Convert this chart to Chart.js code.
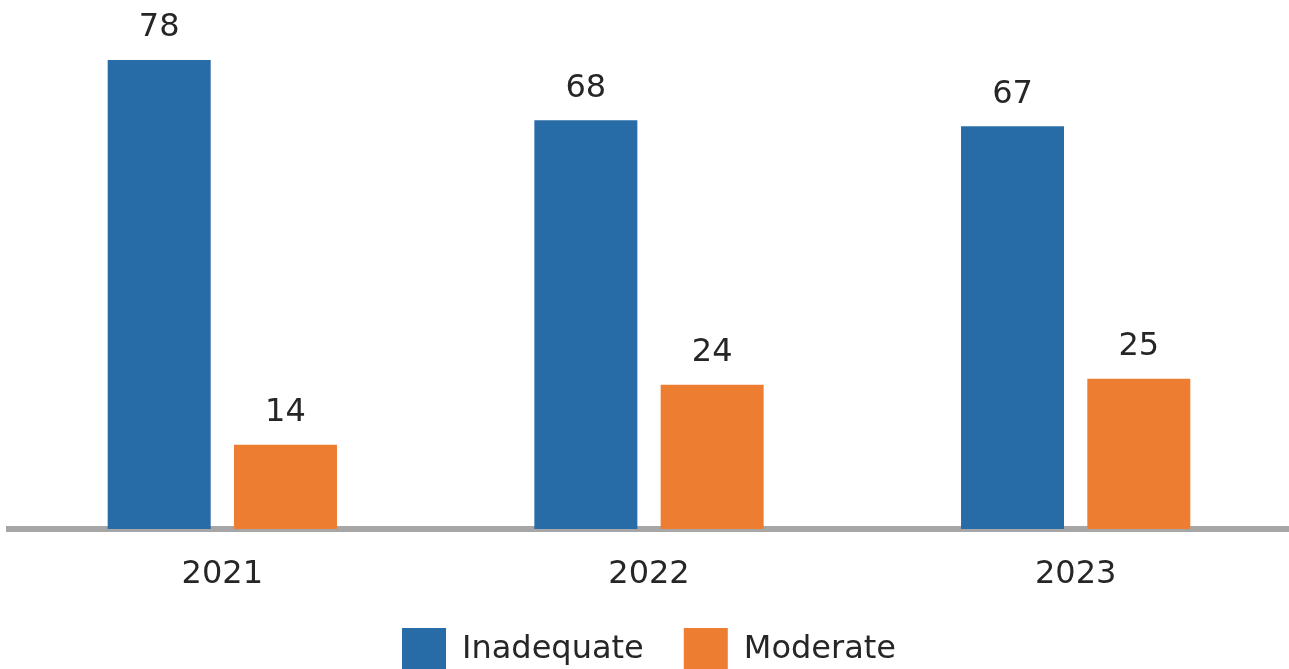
<!DOCTYPE html>
<html>
<head>
<meta charset="utf-8">
<script src="https://cdn.jsdelivr.net/npm/chart.js@4"></script>
<style>
    html, body { margin: 0; padding: 0; background: #fff; overflow: hidden; }
    canvas { display: block; }
</style>
</head>
<body>
<canvas id="myChart" width="1289" height="682"></canvas>
<script>
'use strict';

const years = ['2021', '2022', '2023'];
const inadequate = [78, 68, 67];
const moderate = [14, 24, 25];

const blue = '#276BA7';
const orange = '#ED7D31';
const textColor = '#262626';
const fontName = "'DejaVu Sans', sans-serif";

/* value labels above every bar */
const barValues = {
    id: 'barValues',
    afterDatasetsDraw(chart) {
        const ctx = chart.ctx;
        ctx.save();
        ctx.font = '32px ' + fontName;
        ctx.fillStyle = textColor;
        ctx.textAlign = 'center';
        ctx.textBaseline = 'middle';
        chart.data.datasets.forEach(function(ds, i) {
            chart.getDatasetMeta(i).data.forEach(function(bar, j) {
                ctx.fillText(String(ds.data[j]), bar.x, bar.y - 32);
            });
        });
        ctx.restore();
    }
};

const ctx = document.getElementById('myChart').getContext('2d');

const chart = new Chart(ctx, {
    type: 'bar',
    data: {
        labels: years,
        datasets: [{
            label: 'Inadequate',
            backgroundColor: blue,
            borderWidth: 0,
            data: inadequate,
        },
        {
            label: 'Moderate',
            backgroundColor: orange,
            borderWidth: 0,
            data: moderate,
        }]
    },
    options: {
        responsive: false,
        animation: false,
        events: [],
        categoryPercentage: 0.592,
        barPercentage: 0.8155,
        layout: { padding: { left: 9, right: 0, top: 0, bottom: 0 } },
        scales: {
            x: {
                z: 1,
                grid: { display: false, drawTicks: false },
                border: { display: true, color: '#A6A6A6', width: 6 },
                ticks: {
                    padding: 26,
                    color: textColor,
                    font: { family: fontName, size: 32 }
                },
                // legend padding (40) + axis height must stay 99 to keep the baseline at 529
                afterFit: function(scale) { scale.height = 59; }
            },
            y: {
                display: false,
                min: 0,
                max: 88
            }
        },
        plugins: {
            tooltip: { enabled: false },
            legend: {
                position: 'bottom',
                labels: {
                    boxWidth: 44,
                    boxHeight: 44,
                    padding: 40,
                    color: textColor,
                    font: { family: fontName, size: 32 }
                }
            }
        }
    },
    plugins: [barValues]
});
</script>
</body>
</html>
